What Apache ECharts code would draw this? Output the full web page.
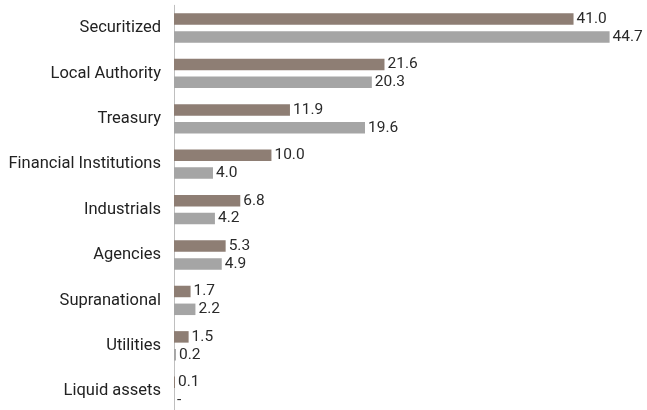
<!DOCTYPE html>
<html><head><meta charset="utf-8">
<script src="https://cdn.jsdelivr.net/npm/echarts@6/dist/echarts.min.js"></script>
<style>html,body{margin:0;padding:0;background:#fff}#c{width:647px;height:410px}</style>
</head><body><div id="c"></div>
<script>
const categories = ["Securitized","Local Authority","Treasury","Financial Institutions","Industrials","Agencies","Supranational","Utilities","Liquid assets"];
const seriesA = [41.0,21.6,11.9,10.0,6.8,5.3,1.7,1.5,0.1];
const seriesB = [44.7,20.3,19.6,4.0,4.2,4.9,2.2,0.2,0];
const FONT = "'Liberation Sans Narrow','Arial Narrow','Roboto',sans-serif";
const chart = echarts.init(document.getElementById('c'));
function lbl(){
  return {show:true, position:'right', distance:3, color:'#2a2a2a', fontSize:15.5, fontFamily:FONT,
    formatter: p => p.value ? p.value.toFixed(1) : '-'};
}
chart.setOption({
  animation:false,
  grid:{left:174, width:458, top:5.3, height:408.6, containLabel:false, outerBoundsMode:'none'},
  xAxis:{type:'value', min:0, max:47, show:false},
  yAxis:{type:'category', data:categories, inverse:true,
    axisLine:{show:true, lineStyle:{color:'#bfbfbf', width:1}},
    axisTick:{show:false},
    axisLabel:{color:'#222', fontSize:16.5, fontFamily:FONT, margin:13, padding:[4,0,0,0]}},
  series:[
    {type:'bar', data:seriesA, itemStyle:{color:'#8e7e74'}, barWidth:11.5, barGap:'55%', label:lbl()},
    {type:'bar', data:seriesB, itemStyle:{color:'#a5a5a5'}, barWidth:11.5, label:lbl()}
  ]
});
</script></body></html>
